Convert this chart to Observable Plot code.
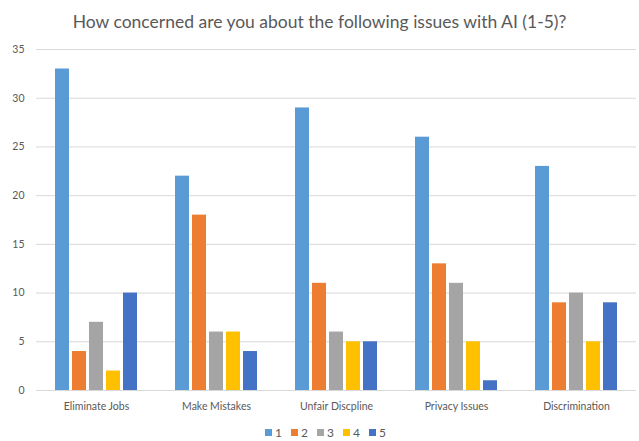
<!DOCTYPE html>
<html>
<head>
<meta charset="utf-8">
<script src="https://cdn.jsdelivr.net/npm/d3@7"></script>
<script src="https://cdn.jsdelivr.net/npm/@observablehq/plot@0.6"></script>
<style>
  body { margin: 0; background: #fff; font-family: Lato, "Open Sans", sans-serif; }
  #chart { width: 639px; height: 441px; position: relative; }
  .title { height: 40px; line-height: 40px; text-align: center; font-size: 17.5px; color: #595959; padding-top: 2px; box-sizing: border-box; }
  .legend { display: flex; justify-content: center; gap: 9px; font-size: 12px; line-height: 15px; color: #595959; margin-top: 0; padding-left: 12px; }
  .legend span { display: inline-flex; align-items: center; gap: 3px; }
  .legend i { display: inline-block; width: 7px; height: 7px; }
  svg text { fill: #595959; }
</style>
</head>
<body>
<div id="chart"></div>
<script>
// Survey responses: how many people chose each concern level per issue
const issues = ["Eliminate Jobs", "Make Mistakes", "Unfair Discpline", "Privacy Issues", "Discrimination"];
const levels = ["1", "2", "3", "4", "5"];
const level1 = [33, 22, 29, 26, 23];
const level2 = [4, 18, 11, 13, 9];
const level3 = [7, 6, 6, 11, 10];
const level4 = [2, 6, 5, 5, 5];
const level5 = [10, 4, 5, 1, 9];
const yTicks = [0, 5, 10, 15, 20, 25, 30, 35];
const palette = ["#5B9BD5", "#ED7D31", "#A5A5A5", "#FFC000", "#4472C4"];

const series = [level1, level2, level3, level4, level5];
const rows = [];
issues.forEach((issue, i) => {
  levels.forEach((lv, j) => rows.push({issue, level: lv, count: series[j][i]}));
});

const root = document.getElementById("chart");
const title = document.createElement("div");
title.className = "title";
title.textContent = "How concerned are you about the following issues with AI (1-5)?";
root.appendChild(title);

const plot = Plot.plot({
  width: 639,
  height: 385,
  marginTop: 9,
  marginBottom: 35,
  marginLeft: 36,
  marginRight: 3,
  style: {fontFamily: "Lato, 'Open Sans', sans-serif", fontSize: "10.5px", color: "#595959"},
  fx: {domain: issues, padding: 0, label: null},
  x: {domain: levels, paddingInner: 0.2, paddingOuter: 0.95, axis: null},
  y: {domain: [0, 35], ticks: yTicks, label: null},
  color: {domain: levels, range: palette},
  marks: [
    Plot.gridY(yTicks, {stroke: "#D9D9D9", strokeOpacity: 1, strokeWidth: 1}),
    Plot.axisY(yTicks, {tickSize: 0, tickPadding: 12, label: null}),
    Plot.axisFx({anchor: "bottom", tickSize: 0, tickPadding: 12, label: null, fontSize: "10.5px"}),
    Plot.barY(rows, {fx: "issue", x: "level", y: "count", fill: "level"})
  ]
});
root.appendChild(plot);

const legend = document.createElement("div");
legend.className = "legend";
levels.forEach((lv, j) => {
  const s = document.createElement("span");
  const sw = document.createElement("i");
  sw.style.background = palette[j];
  s.appendChild(sw);
  s.appendChild(document.createTextNode(lv));
  legend.appendChild(s);
});
root.appendChild(legend);
</script>
</body>
</html>
